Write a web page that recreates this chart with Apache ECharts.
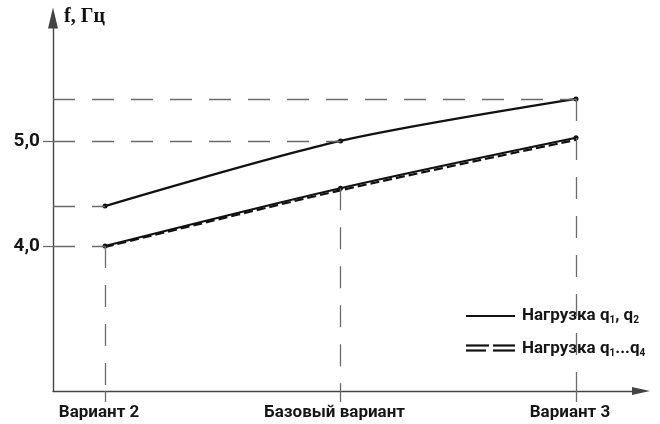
<!DOCTYPE html>
<html>
<head>
<meta charset="utf-8">
<script src="https://cdn.jsdelivr.net/npm/echarts@6/dist/echarts.min.js"></script>
<style>
  html, body { margin: 0; padding: 0; background: #fff; }
  #chart { width: 660px; height: 424px; }
</style>
</head>
<body>
<div id="chart"></div>
<script>
// Frequency f (Hz) for three design variants
const categories = ['Вариант 2', 'Базовый вариант', 'Вариант 3'];
const loadQ12 = [4.38, 5.0, 5.40];      // нагрузка q1, q2
const loadQ14a = [4.00, 4.55, 5.03];    // нагрузка q1...q4 (solid)
const loadQ14b = [3.99, 4.53, 5.01];    // нагрузка q1...q4 (dashed)
const yTickValues = [4, 5];
const yTickLabels = ['4,0', '5,0'];

const xMin = -0.221, xMax = 2.276;
const yMin = 2.62, yMax = 6.17;

const pts = arr => arr.map((v, i) => [i, v]);
const grey = '#6b6b6b';
const dash = [22, 17];

// dashed guide lines from the axes to the marked points
const hLine = (x, y) => [{ coord: [xMin, y] }, { coord: [x, y] }];
const vLine = (x, y) => [{ coord: [x, y] }, { coord: [x, yMin] }];
const guides = [
  hLine(0, loadQ12[0]),
  hLine(1, loadQ12[1]),
  hLine(2, loadQ12[2]),
  hLine(0, loadQ14a[0]),
  vLine(0, loadQ14a[0]),
  vLine(1, loadQ14a[1]),
  vLine(2, loadQ12[2])
];

const chart = echarts.init(document.getElementById('chart'), null, { renderer: 'canvas' });

const labelFont = { fontFamily: 'Roboto', fontWeight: 'bold', fontSize: 17, color: '#161616' };
const richLegend = {
  a: { fontFamily: 'Roboto', fontWeight: 'bold', fontSize: 17, fill: '#161616', lineHeight: 20 },
  s: { fontFamily: 'Roboto', fontWeight: 'bold', fontSize: 10, fill: '#161616', lineHeight: 20, padding: [8, 0, 0, 0] }
};

chart.setOption({
  backgroundColor: '#fff',
  animation: false,
  grid: { left: 53, right: 19, top: 18, bottom: 33, containLabel: false },
  xAxis: {
    type: 'value',
    min: xMin,
    max: xMax,
    splitLine: { show: false },
    axisLine: {
      show: true,
      onZero: false,
      symbol: ['none', 'triangle'],
      symbolSize: [8, 18],
      lineStyle: { color: '#444', width: 1.4 }
    },
    axisTick: {
      show: true,
      customValues: [0, 1, 2],
      length: 11,
      inside: false,
      lineStyle: { color: grey, width: 1.3 }
    },
    axisLabel: {
      customValues: [0, 1, 2],
      formatter: v => categories[Math.round(v)],
      margin: 13,
      padding: [0, 12, 0, 0],
      ...labelFont
    }
  },
  yAxis: {
    type: 'value',
    min: yMin,
    max: yMax,
    splitLine: { show: false },
    axisLine: {
      show: true,
      onZero: false,
      symbol: ['none', 'triangle'],
      symbolSize: [10, 21],
      lineStyle: { color: '#444', width: 1.4 }
    },
    axisTick: {
      show: true,
      customValues: yTickValues,
      length: 10,
      inside: false,
      lineStyle: { color: grey, width: 1.3 }
    },
    axisLabel: {
      customValues: yTickValues,
      formatter: v => yTickLabels[yTickValues.indexOf(Math.round(v))],
      margin: 13,
      ...labelFont,
      fontSize: 19
    }
  },
  series: [
    {
      name: 'q1, q2',
      type: 'line',
      data: pts(loadQ12),
      smooth: 0.3,
      symbol: 'circle',
      symbolSize: 5,
      itemStyle: { color: '#111' },
      lineStyle: { color: '#111', width: 2.2 },
      z: 3,
      markLine: {
        silent: true,
        symbol: 'none',
        label: { show: false },
        lineStyle: { color: grey, width: 1.3, type: dash },
        data: guides
      }
    },
    {
      name: 'q1...q4',
      type: 'line',
      data: pts(loadQ14a),
      smooth: 0.3,
      symbol: 'circle',
      symbolSize: 5,
      itemStyle: { color: '#111' },
      lineStyle: { color: '#111', width: 2.2 },
      z: 3
    },
    {
      name: 'q1...q4 dashed',
      type: 'line',
      data: pts(loadQ14b),
      smooth: 0.3,
      symbol: 'none',
      lineStyle: { color: '#111', width: 2.2, type: [9, 4] },
      z: 3
    }
  ],
  graphic: [
    {
      type: 'text',
      left: 64,
      top: 7,
      style: {
        text: 'f, Гц',
        font: 'bold 20px "Liberation Serif"',
        fill: '#111'
      }
    },
    // legend
    { type: 'line', shape: { x1: 466, y1: 316, x2: 515, y2: 316 }, style: { stroke: '#111', lineWidth: 2.2 } },
    { type: 'line', shape: { x1: 466, y1: 345.5, x2: 489, y2: 345.5 }, style: { stroke: '#111', lineWidth: 2.2 } },
    { type: 'line', shape: { x1: 493, y1: 345.5, x2: 515, y2: 345.5 }, style: { stroke: '#111', lineWidth: 2.2 } },
    { type: 'line', shape: { x1: 466, y1: 350.5, x2: 486, y2: 350.5 }, style: { stroke: '#111', lineWidth: 2.2 } },
    { type: 'line', shape: { x1: 493, y1: 350.5, x2: 515, y2: 350.5 }, style: { stroke: '#111', lineWidth: 2.2 } },
    {
      type: 'text',
      x: 522,
      y: 316,
      style: {
        text: '{a|Нагрузка q}{s|1}{a|, q}{s|2}',
        verticalAlign: 'middle',
        rich: richLegend
      }
    },
    {
      type: 'text',
      x: 522,
      y: 349,
      style: {
        text: '{a|Нагрузка q}{s|1}{a|...q}{s|4}',
        verticalAlign: 'middle',
        rich: richLegend
      }
    }
  ]
});
</script>
</body>
</html>
